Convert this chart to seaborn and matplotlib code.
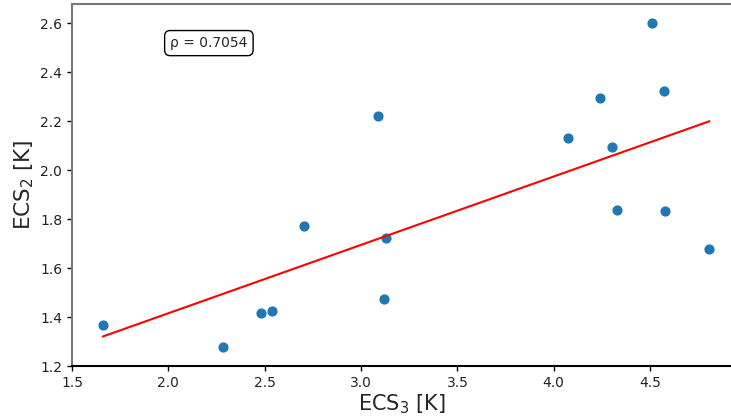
import numpy as np
import pandas as pd
import matplotlib
matplotlib.use("Agg")
import matplotlib.pyplot as plt
import seaborn as sns

ecs3 = [1.660, 2.285, 2.479, 2.539, 2.702, 3.131, 3.117, 4.329, 4.578, 4.808,
        3.086, 4.073, 4.305, 4.242, 4.510, 4.573]
ecs2 = [1.366, 1.278, 1.418, 1.426, 1.773, 1.721, 1.474, 1.838, 1.833, 1.678,
        2.219, 2.129, 2.093, 2.293, 2.600, 2.324]
rho_label = "ρ = 0.7054"

df = pd.DataFrame({"ecs3": ecs3, "ecs2": ecs2})

sns.set_style("ticks")
plt.rcParams['font.family'] = ['DejaVu Sans']

fig = plt.figure(figsize=(7.31, 4.16), dpi=100)
ax = fig.add_axes([72 / 731, 50 / 416, 1 - 72 / 731, 362 / 416])

sns.regplot(data=df, x="ecs3", y="ecs2", ax=ax, ci=None, truncate=True,
            scatter_kws=dict(s=40, color="#1f77b4", alpha=1, linewidths=1,
                             edgecolors="face"),
            line_kws=dict(color="red", lw=1.5))

ax.set_xlim(1.5, 4.92)
ax.set_ylim(1.2, 2.678)
ax.set_xticks([1.5, 2.0, 2.5, 3.0, 3.5, 4.0, 4.5])
ax.set_yticks([1.2, 1.4, 1.6, 1.8, 2.0, 2.2, 2.4, 2.6])
ax.set_xticklabels(["1.5", "2.0", "2.5", "3.0", "3.5", "4.0", "4.5"])
ax.set_yticklabels(["1.2", "1.4", "1.6", "1.8", "2.0", "2.2", "2.4", "2.6"])
ax.tick_params(labelsize=10, colors="black", labelcolor="#222222", length=3.5, width=1)

ax.set_xlabel("ECS$_3$ [K]", fontsize=15, labelpad=2)
ax.set_ylabel("ECS$_2$ [K]", fontsize=15.5, labelpad=3)

ax.spines['right'].set_visible(False)
ax.spines['left'].set_color("#777777")
ax.spines['top'].set_color("#777777")
ax.spines['bottom'].set_color("black")
for s in ['left', 'top', 'bottom']:
    ax.spines[s].set_linewidth(1.5)

ax.text(0.149, 0.892, rho_label, transform=ax.transAxes, fontsize=10,
        va="center", ha="left",
        bbox=dict(boxstyle="round,pad=0.4", fc="white", ec="black", lw=1))

fig.savefig("out.png", dpi=100)
